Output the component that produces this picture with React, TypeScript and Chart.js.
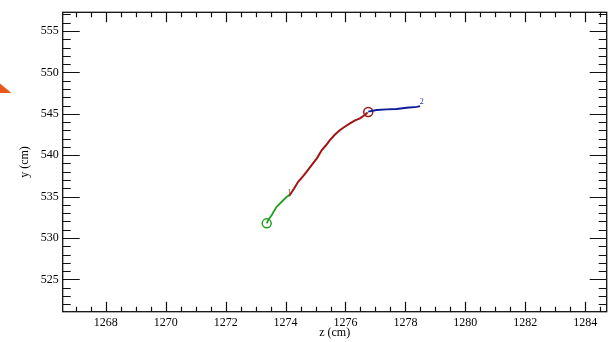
import React, { useEffect, useRef } from "react";
import { Chart, registerables } from "chart.js";

Chart.register(...registerables);

// Axis ranges and ticks
const xRange = [1266.56, 1284.72];
const yRange = [521.1, 557.26];
const xMajorTicks = [1268, 1270, 1272, 1274, 1276, 1278, 1280, 1282, 1284];
const yMajorTicks = [525, 530, 535, 540, 545, 550, 555];
const xMinorStep = 0.5;
const yMinorStep = 1;

// Track segments (z, y)
const greenZ = [1273.37, 1273.44, 1273.54, 1273.6, 1273.7, 1273.87, 1274.04, 1274.12];
const greenY = [531.77, 532.27, 532.77, 533.17, 533.77, 534.38, 534.98, 535.15];

const redZ = [1274.12, 1274.28, 1274.42, 1274.58, 1274.7, 1274.87, 1275.05, 1275.21, 1275.35, 1275.48, 1275.65, 1275.82, 1276.0, 1276.15, 1276.32, 1276.48, 1276.62, 1276.74];
const redY = [535.07, 535.95, 536.79, 537.45, 538.0, 538.81, 539.65, 540.62, 541.2, 541.83, 542.5, 543.04, 543.5, 543.85, 544.2, 544.45, 544.8, 545.17];

const blueZ = [1276.76, 1277.04, 1277.37, 1277.71, 1278.04, 1278.38, 1278.49];
const blueY = [545.25, 545.46, 545.54, 545.58, 545.73, 545.85, 545.94];

// Vertex markers (open circles)
const greenVertex = { z: 1273.37, y: 531.77 };
const redVertex = { z: 1276.76, y: 545.22 };

// Segment end labels
const endLabels = ["1", "2"];
const endLabelZ = [1274.12, 1278.55];
const endLabelY = [535.5, 546.4];
const endLabelColors = ["#7a5a10", "#2233aa"];

const SERIF = "'Liberation Serif', 'DejaVu Serif', serif";

const toPts = (zs: number[], ys: number[]) => zs.map((z, i) => ({ x: z, y: ys[i] }));

const framePlugin = {
  id: "frameTicks",
  afterDatasetsDraw(chart: any) {
    const { ctx, chartArea, scales } = chart;
    const xs = scales.x;
    const ys = scales.y;
    const { left, right, top, bottom } = chartArea;
    ctx.save();
    ctx.strokeStyle = "#111";
    ctx.lineWidth = 1.3;
    ctx.strokeRect(left, top, right - left, bottom - top);
    ctx.lineWidth = 1.2;
    ctx.beginPath();
    const xStart = Math.ceil(xRange[0] / xMinorStep) * xMinorStep;
    for (let v = xStart; v <= xRange[1] + 1e-9; v += xMinorStep) {
      const px = Math.round(xs.getPixelForValue(v)) + 0.5;
      const major = xMajorTicks.some((t) => Math.abs(t - v) < 1e-6);
      const len = major ? 10 : 5;
      ctx.moveTo(px, bottom);
      ctx.lineTo(px, bottom - len);
      ctx.moveTo(px, top);
      ctx.lineTo(px, top + len);
    }
    const yStart = Math.ceil(yRange[0] / yMinorStep) * yMinorStep;
    for (let v = yStart; v <= yRange[1] + 1e-9; v += yMinorStep) {
      const py = Math.round(ys.getPixelForValue(v)) + 0.5;
      const major = yMajorTicks.some((t) => Math.abs(t - v) < 1e-6);
      const len = major ? 17 : 8;
      ctx.moveTo(left, py);
      ctx.lineTo(left + len, py);
      ctx.moveTo(right, py);
      ctx.lineTo(right - len, py);
    }
    ctx.stroke();

    ctx.font = `8px ${SERIF}`;
    ctx.textAlign = "center";
    ctx.textBaseline = "middle";
    endLabels.forEach((t, i) => {
      ctx.fillStyle = endLabelColors[i];
      ctx.fillText(t, xs.getPixelForValue(endLabelZ[i]), ys.getPixelForValue(endLabelY[i]));
    });

    ctx.fillStyle = "#e8581f";
    ctx.beginPath();
    ctx.moveTo(0, 83.5);
    ctx.lineTo(11.5, 93);
    ctx.lineTo(0, 93);
    ctx.closePath();
    ctx.fill();
    ctx.restore();
  },
};

export default function App() {
  const ref = useRef<HTMLCanvasElement | null>(null);
  useEffect(() => {
    if (!ref.current) return;
    const chart = new Chart(ref.current, {
      type: "scatter",
      data: {
        datasets: [
          { data: toPts(greenZ, greenY), showLine: true, borderColor: "#23a023", borderWidth: 1.8, pointRadius: 0 },
          { data: toPts(redZ, redY), showLine: true, borderColor: "#a01414", borderWidth: 2, pointRadius: 0 },
          { data: toPts(blueZ, blueY), showLine: true, borderColor: "#0f1a9a", borderWidth: 1.8, pointRadius: 0 },
          {
            data: [{ x: greenVertex.z, y: greenVertex.y }],
            pointRadius: 4.5,
            pointBorderWidth: 1.5,
            pointBackgroundColor: "rgba(0,0,0,0)",
            pointBorderColor: "#23a023",
          },
          {
            data: [{ x: redVertex.z, y: redVertex.y }],
            pointRadius: 4.5,
            pointBorderWidth: 1.5,
            pointBackgroundColor: "rgba(0,0,0,0)",
            pointBorderColor: "#a01414",
          },
        ],
      },
      options: {
        animation: false,
        responsive: false,
        maintainAspectRatio: false,
        layout: { padding: { top: 12.3, right: 9.3, left: 0, bottom: 0 } },
        plugins: { legend: { display: false }, tooltip: { enabled: false } },
        scales: {
          x: {
            type: "linear",
            min: xRange[0],
            max: xRange[1],
            grid: { display: false, drawTicks: false },
            border: { display: false },
            afterBuildTicks: (s: any) => {
              s.ticks = xMajorTicks.map((v) => ({ value: v }));
            },
            afterFit: (s: any) => {
              s.height = 30.3;
            },
            ticks: {
              padding: 4,
              color: "#000",
              font: { family: SERIF, size: 12 },
              autoSkip: false,
              maxRotation: 0,
              callback: (v: any) => String(v),
            },
            title: {
              display: true,
              text: "z (cm)",
              color: "#000",
              font: { family: SERIF, size: 12 },
              padding: { top: 0, bottom: 1.8 },
            },
          },
          y: {
            type: "linear",
            min: yRange[0],
            max: yRange[1],
            grid: { display: false, drawTicks: false },
            border: { display: false },
            afterBuildTicks: (s: any) => {
              s.ticks = yMajorTicks.map((v) => ({ value: v }));
            },
            afterFit: (s: any) => {
              s.width = 62.7;
            },
            ticks: {
              padding: 4,
              color: "#000",
              font: { family: SERIF, size: 12 },
              autoSkip: false,
              callback: (v: any) => String(v),
            },
            title: {
              display: true,
              text: "y (cm)",
              color: "#000",
              font: { family: SERIF, size: 12 },
              padding: { top: 18, bottom: 0 },
            },
          },
        },
      },
      plugins: [framePlugin],
    });
    return () => chart.destroy();
  }, []);
  return (
    <div style={{ position: "fixed", left: 0, top: 0, width: 616, height: 342, background: "#fff" }}>
      <canvas ref={ref} width={616} height={342} style={{ display: "block", width: 616, height: 342 }} />
    </div>
  );
}
